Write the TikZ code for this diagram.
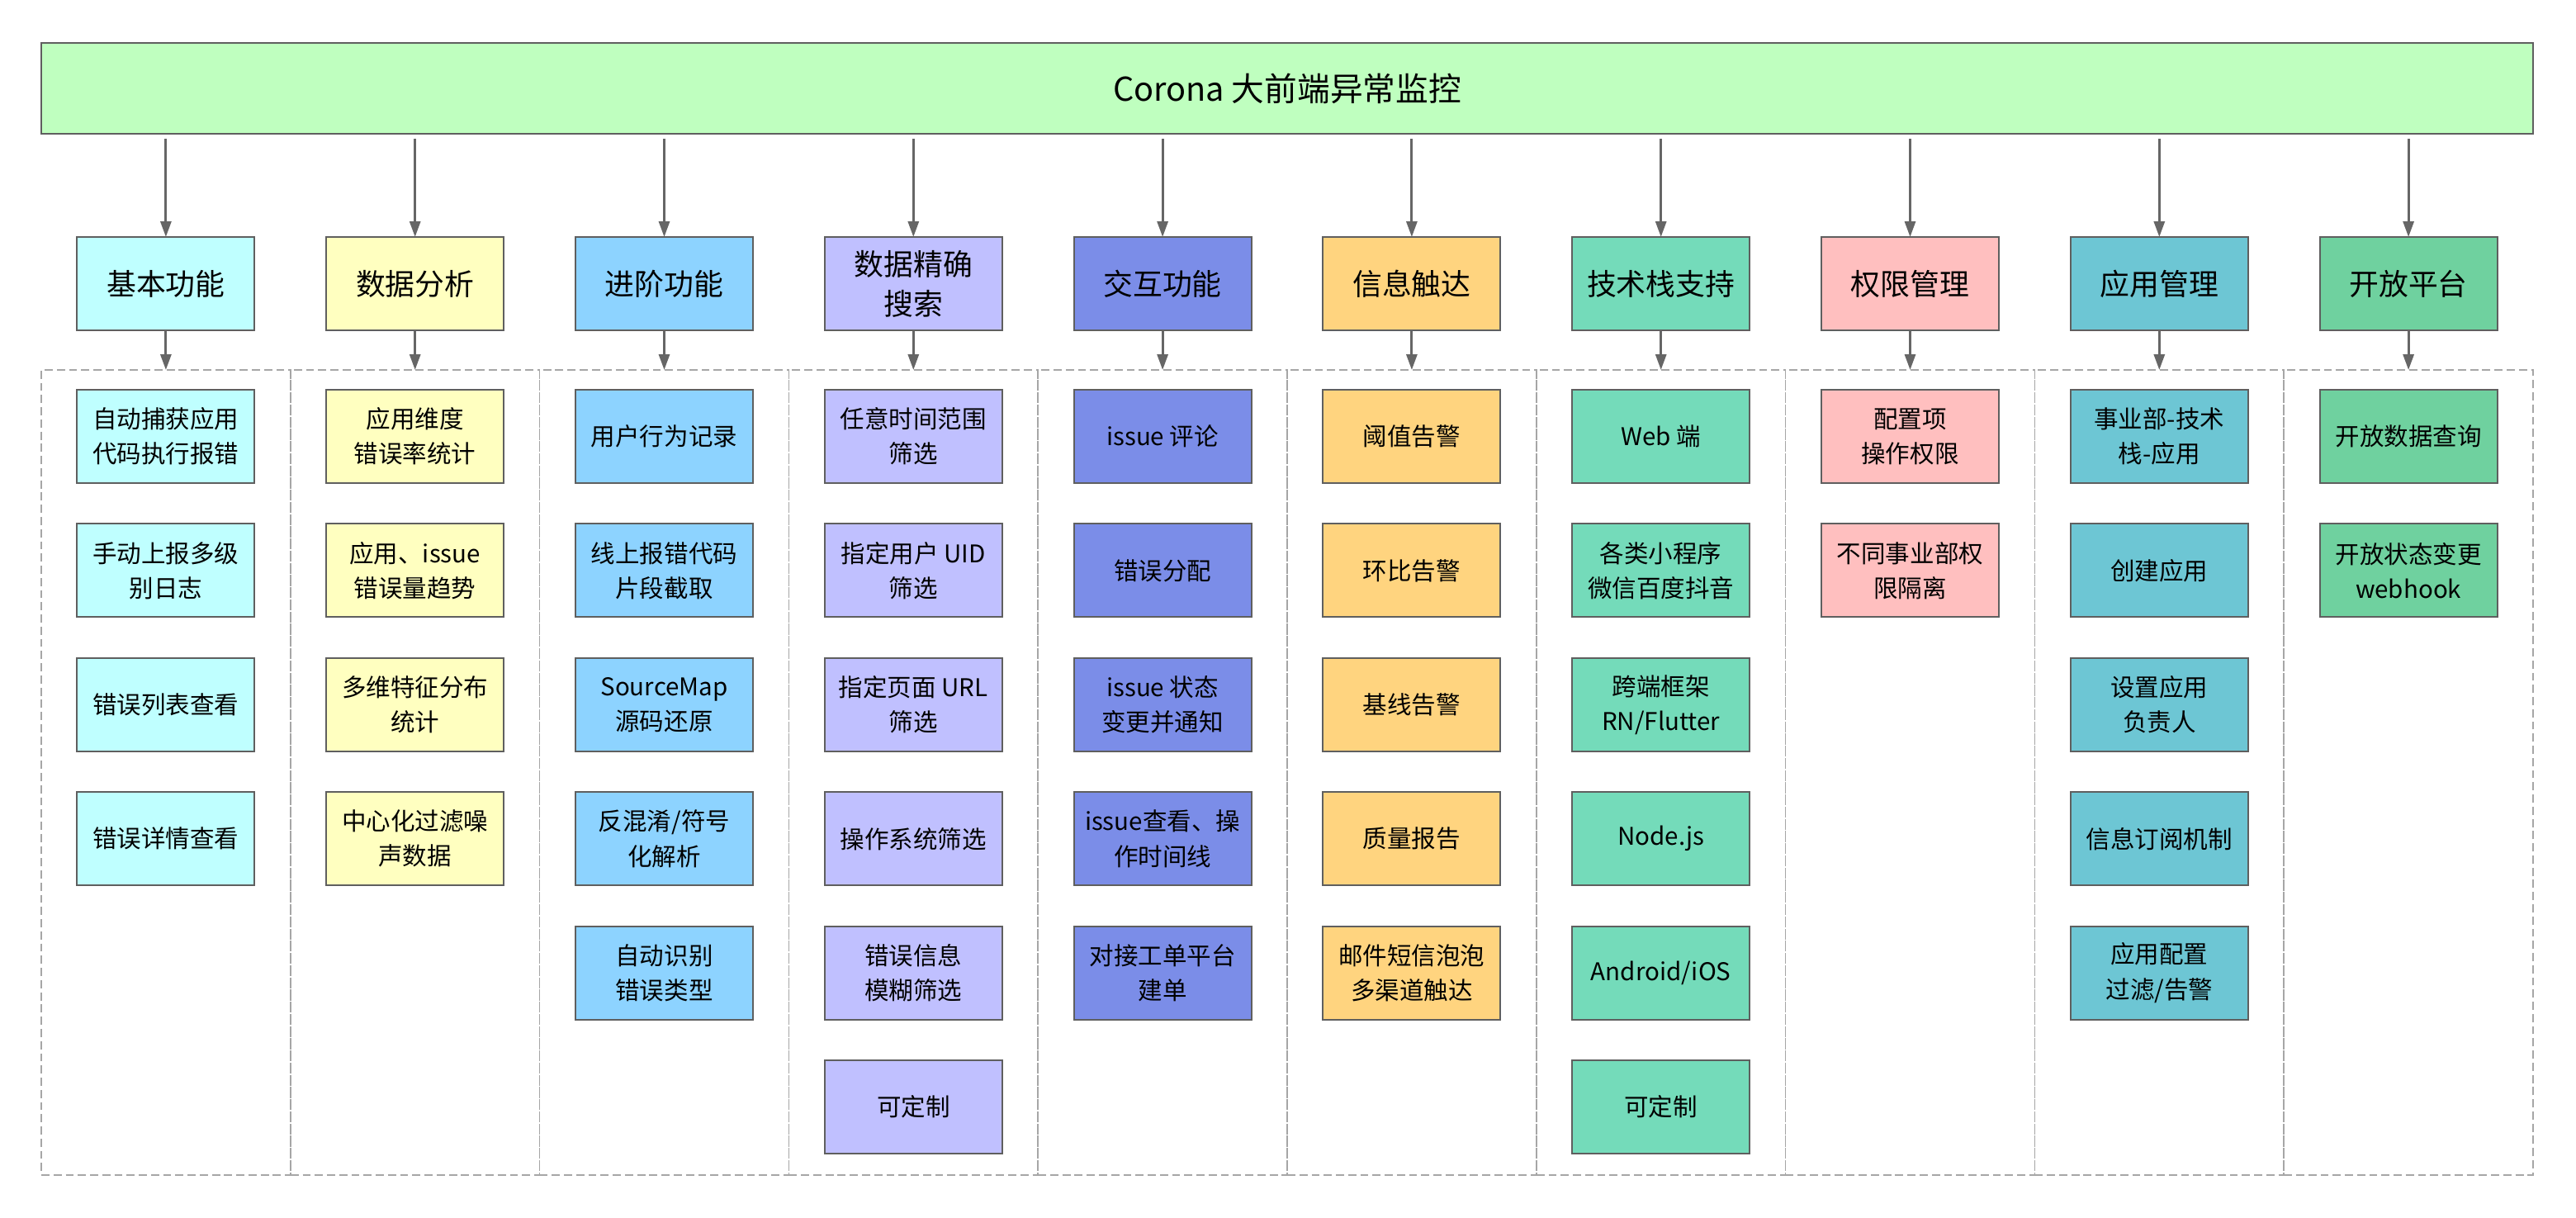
\documentclass[tikz,border=0pt]{standalone}
\usepackage{fontspec}
\setmainfont{Noto Sans CJK SC}
\usepackage{xcolor}
\usepackage{tikz}
\usetikzlibrary{arrows.meta, positioning}

\definecolor{boxgray}{RGB}{95,95,95}
\definecolor{lanegray}{RGB}{166,166,166}
\definecolor{arrowgray}{RGB}{102,102,102}
\definecolor{cTop}{HTML}{BFFFBF}
\definecolor{cBasic}{HTML}{BFFFFF}
\definecolor{cData}{HTML}{FFFFC0}
\definecolor{cAdv}{HTML}{8DD3FF}
\definecolor{cSearch}{HTML}{C0C0FF}
\definecolor{cInter}{HTML}{7B8DE8}
\definecolor{cNotify}{HTML}{FFD47F}
\definecolor{cStack}{HTML}{74DBBA}
\definecolor{cPerm}{HTML}{FFBFBF}
\definecolor{cApp}{HTML}{6DC6D4}
\definecolor{cOpen}{HTML}{6FD19F}

\begin{document}
\begin{tikzpicture}[
    node distance=0.494cm and 0.868cm,
    topbox/.style={
        rectangle,
        draw=boxgray,
        line width=0.6pt,
        fill=cTop,
        minimum width=30.18cm,
        minimum height=1.10cm,
        font=\fontsize{11.3}{14}\selectfont
    },
    cat/.style={
        rectangle,
        draw=boxgray,
        line width=0.6pt,
        minimum width=2.15cm,
        minimum height=1.13cm,
        inner sep=0pt,
        outer sep=0pt,
        align=center,
        font=\fontsize{10.2}{13.7}\selectfont
    },
    item/.style={
        rectangle,
        draw=boxgray,
        line width=0.6pt,
        minimum width=2.15cm,
        minimum height=1.13cm,
        inner sep=0pt,
        outer sep=0pt,
        align=center,
        font=\fontsize{8.4}{12}\selectfont
    },
    lane/.style={
        rectangle,
        draw=lanegray,
        line width=0.5pt,
        outer sep=0pt,
        dash pattern=on 2.8pt off 1.4pt,
        minimum width=3.018cm,
        minimum height=9.75cm
    },
    arrow/.style={-{Triangle[length=0.19cm,width=0.13cm]}, line width=0.85pt, draw=arrowgray, fill=arrowgray}
]
\useasboundingbox (0,0) rectangle (31.2,-14.74);

% Root
\node (corona) [topbox] at (15.59,-1.07) {Corona 大前端异常监控};

% Categories
\node (basic) [cat, fill=cBasic] at (2.009,-3.435) {基本功能};
\node (analysis) [cat, fill=cData, right=of basic] {数据分析};
\node (advanced) [cat, fill=cAdv, right=of analysis] {进阶功能};
\node (search) [cat, fill=cSearch, right=of advanced] {数据精确\\搜索};
\node (interact) [cat, fill=cInter, right=of search] {交互功能};
\node (notify) [cat, fill=cNotify, right=of interact] {信息触达};
\node (stack) [cat, fill=cStack, right=of notify] {技术栈支持};
\node (perm) [cat, fill=cPerm, right=of stack] {权限管理};
\node (appmgr) [cat, fill=cApp, right=of perm] {应用管理};
\node (openapi) [cat, fill=cOpen, right=of appmgr] {开放平台};

% Dashed lanes
\node (basicLane) [lane, below=0.48cm of basic] {};
\node (analysisLane) [lane, below=0.48cm of analysis] {};
\node (advancedLane) [lane, below=0.48cm of advanced] {};
\node (searchLane) [lane, below=0.48cm of search] {};
\node (interactLane) [lane, below=0.48cm of interact] {};
\node (notifyLane) [lane, below=0.48cm of notify] {};
\node (stackLane) [lane, below=0.48cm of stack] {};
\node (permLane) [lane, below=0.48cm of perm] {};
\node (appmgrLane) [lane, below=0.48cm of appmgr] {};
\node (openapiLane) [lane, below=0.48cm of openapi] {};

% Basic
\node (basic1) [item, fill=cBasic, below=0.72cm of basic] {自动捕获应用\\代码执行报错};
\node (basic2) [item, fill=cBasic, below=of basic1] {手动上报多级\\别日志};
\node (basic3) [item, fill=cBasic, below=of basic2] {错误列表查看};
\node (basic4) [item, fill=cBasic, below=of basic3] {错误详情查看};

% Analysis
\node (analysis1) [item, fill=cData, below=0.72cm of analysis] {应用维度\\错误率统计};
\node (analysis2) [item, fill=cData, below=of analysis1] {应用、issue\\错误量趋势};
\node (analysis3) [item, fill=cData, below=of analysis2] {多维特征分布\\统计};
\node (analysis4) [item, fill=cData, below=of analysis3] {中心化过滤噪\\声数据};

% Advanced
\node (advanced1) [item, fill=cAdv, below=0.72cm of advanced] {用户行为记录};
\node (advanced2) [item, fill=cAdv, below=of advanced1] {线上报错代码\\片段截取};
\node (advanced3) [item, fill=cAdv, below=of advanced2] {SourceMap\\源码还原};
\node (advanced4) [item, fill=cAdv, below=of advanced3] {反混淆/符号\\化解析};
\node (advanced5) [item, fill=cAdv, below=of advanced4] {自动识别\\错误类型};

% Search
\node (search1) [item, fill=cSearch, below=0.72cm of search] {任意时间范围\\筛选};
\node (search2) [item, fill=cSearch, below=of search1] {指定用户 UID\\筛选};
\node (search3) [item, fill=cSearch, below=of search2] {指定页面 URL\\筛选};
\node (search4) [item, fill=cSearch, below=of search3] {操作系统筛选};
\node (search5) [item, fill=cSearch, below=of search4] {错误信息\\模糊筛选};
\node (search6) [item, fill=cSearch, below=of search5] {可定制};

% Interaction
\node (interact1) [item, fill=cInter, below=0.72cm of interact] {issue 评论};
\node (interact2) [item, fill=cInter, below=of interact1] {错误分配};
\node (interact3) [item, fill=cInter, below=of interact2] {issue 状态\\变更并通知};
\node (interact4) [item, fill=cInter, below=of interact3] {issue查看、操\\作时间线};
\node (interact5) [item, fill=cInter, below=of interact4] {对接工单平台\\建单};

% Notification
\node (notify1) [item, fill=cNotify, below=0.72cm of notify] {阈值告警};
\node (notify2) [item, fill=cNotify, below=of notify1] {环比告警};
\node (notify3) [item, fill=cNotify, below=of notify2] {基线告警};
\node (notify4) [item, fill=cNotify, below=of notify3] {质量报告};
\node (notify5) [item, fill=cNotify, below=of notify4] {邮件短信泡泡\\多渠道触达};

% Tech stack
\node (stack1) [item, fill=cStack, below=0.72cm of stack] {Web 端};
\node (stack2) [item, fill=cStack, below=of stack1] {各类小程序\\微信百度抖音};
\node (stack3) [item, fill=cStack, below=of stack2] {跨端框架\\RN/Flutter};
\node (stack4) [item, fill=cStack, below=of stack3] {Node.js};
\node (stack5) [item, fill=cStack, below=of stack4] {Android/iOS};
\node (stack6) [item, fill=cStack, below=of stack5] {可定制};

% Permission
\node (perm1) [item, fill=cPerm, below=0.72cm of perm] {配置项\\操作权限};
\node (perm2) [item, fill=cPerm, below=of perm1] {不同事业部权\\限隔离};

% App management
\node (appmgr1) [item, fill=cApp, below=0.72cm of appmgr] {事业部-技术\\栈-应用};
\node (appmgr2) [item, fill=cApp, below=of appmgr1] {创建应用};
\node (appmgr3) [item, fill=cApp, below=of appmgr2] {设置应用\\负责人};
\node (appmgr4) [item, fill=cApp, below=of appmgr3] {信息订阅机制};
\node (appmgr5) [item, fill=cApp, below=of appmgr4] {应用配置\\过滤/告警};

% Open platform
\node (openapi1) [item, fill=cOpen, below=0.72cm of openapi] {开放数据查询};
\node (openapi2) [item, fill=cOpen, below=of openapi1] {开放状态变更\\webhook};

% Root to categories
\draw[arrow, shorten <=0.05cm] (corona.south -| basic) -- (basic);
\draw[arrow, shorten <=0.05cm] (corona.south -| analysis) -- (analysis);
\draw[arrow, shorten <=0.05cm] (corona.south -| advanced) -- (advanced);
\draw[arrow, shorten <=0.05cm] (corona.south -| search) -- (search);
\draw[arrow, shorten <=0.05cm] (corona.south -| interact) -- (interact);
\draw[arrow, shorten <=0.05cm] (corona.south -| notify) -- (notify);
\draw[arrow, shorten <=0.05cm] (corona.south -| stack) -- (stack);
\draw[arrow, shorten <=0.05cm] (corona.south -| perm) -- (perm);
\draw[arrow, shorten <=0.05cm] (corona.south -| appmgr) -- (appmgr);
\draw[arrow, shorten <=0.05cm] (corona.south -| openapi) -- (openapi);

% Categories to lanes
\draw[arrow] (basic) -- (basicLane.north);
\draw[arrow] (analysis) -- (analysisLane.north);
\draw[arrow] (advanced) -- (advancedLane.north);
\draw[arrow] (search) -- (searchLane.north);
\draw[arrow] (interact) -- (interactLane.north);
\draw[arrow] (notify) -- (notifyLane.north);
\draw[arrow] (stack) -- (stackLane.north);
\draw[arrow] (perm) -- (permLane.north);
\draw[arrow] (appmgr) -- (appmgrLane.north);
\draw[arrow] (openapi) -- (openapiLane.north);

\end{tikzpicture}
\end{document}
